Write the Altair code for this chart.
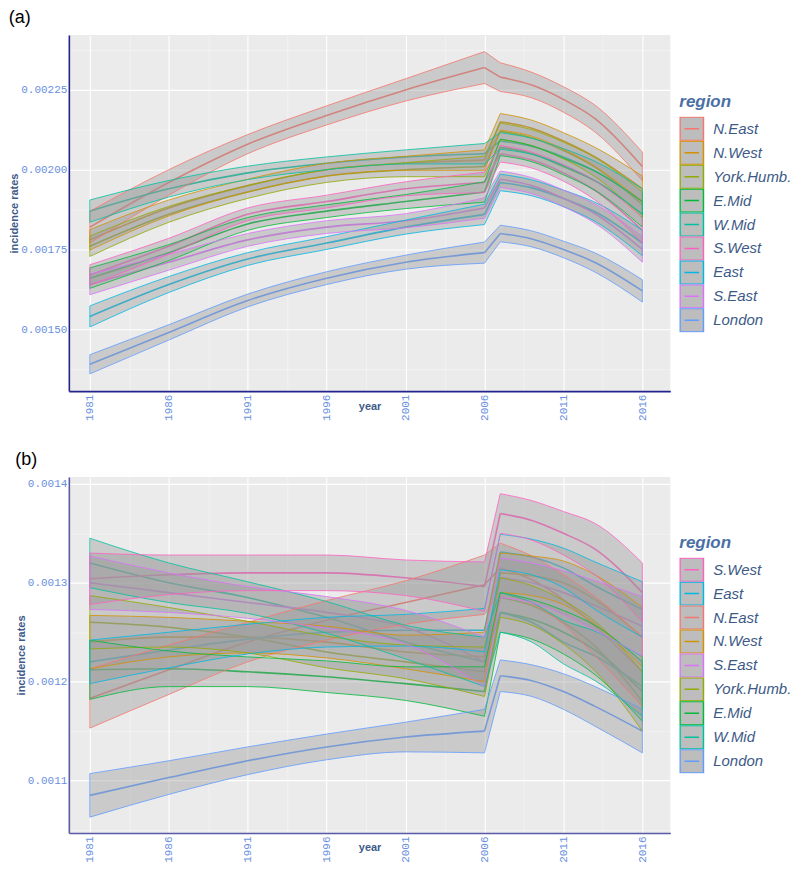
import altair as alt
import pandas as pd

years = [1981, 1986, 1991, 1996, 2001, 2006, 2007, 2009, 2011, 2013, 2016]
regions = ["N.East", "N.West", "York.Humb.", "E.Mid", "W.Mid", "East", "London", "S.East", "S.West"]
colors = ["#F8766D", "#D39200", "#93AA00", "#00BA38", "#00C19F", "#00B9E3", "#619CFF", "#DB72FB", "#FF61C3"]

# ---- panel (a) ----
a_order = ["N.East", "N.West", "York.Humb.", "E.Mid", "W.Mid", "S.West", "East", "S.East", "London"]
a_mean = {
    "N.East":     [0.00182, 0.00196, 0.00208, 0.00217, 0.00225, 0.00232, 0.00229, 0.002265, 0.00222, 0.00216, 0.00201],
    "N.West":     [0.00178, 0.00188, 0.00195, 0.00200, 0.00202, 0.00203, 0.00215, 0.00213, 0.00209, 0.00204, 0.00194],
    "York.Humb.": [0.00176, 0.00186, 0.00193, 0.00198, 0.00200, 0.00201, 0.00212, 0.00210, 0.00206, 0.002008, 0.00189],
    "E.Mid":      [0.00166, 0.00174, 0.00183, 0.00187, 0.00190, 0.00193, 0.00207, 0.00205, 0.00201, 0.001965, 0.00186],
    "W.Mid":      [0.00187, 0.00194, 0.00199, 0.00202, 0.00204, 0.00205, 0.00209, 0.002073, 0.00204, 0.001996, 0.00190],
    "S.West":     [0.00167, 0.00176, 0.00186, 0.00190, 0.00194, 0.00196, 0.00205, 0.00203, 0.00199, 0.001935, 0.00181],
    "East":       [0.00154, 0.00164, 0.00172, 0.00177, 0.00182, 0.00186, 0.00196, 0.001943, 0.00191, 0.001868, 0.00177],
    "S.East":     [0.00164, 0.00171, 0.00178, 0.00182, 0.00184, 0.00188, 0.00197, 0.00195, 0.00191, 0.001862, 0.00175],
    "London":     [0.00139, 0.00149, 0.00159, 0.00166, 0.00171, 0.00174, 0.00180, 0.001783, 0.00175, 0.001709, 0.00162],
}
a_half = {
    "N.East":     [0.000050, 0.000040, 0.000030, 0.000030, 0.000035, 0.000050, 0.000045, 0.000040, 0.000040, 0.000042, 0.000045],
    "N.West":     [0.000032, 0.000025, 0.000020, 0.000020, 0.000022, 0.000032, 0.000026, 0.000025, 0.000026, 0.000030, 0.000040],
    "York.Humb.": [0.000032, 0.000025, 0.000020, 0.000020, 0.000022, 0.000032, 0.000026, 0.000025, 0.000026, 0.000030, 0.000040],
    "E.Mid":      [0.000032, 0.000025, 0.000020, 0.000020, 0.000022, 0.000032, 0.000026, 0.000025, 0.000026, 0.000030, 0.000040],
    "W.Mid":      [0.000035, 0.000026, 0.000021, 0.000020, 0.000022, 0.000032, 0.000026, 0.000025, 0.000026, 0.000030, 0.000040],
    "S.West":     [0.000032, 0.000025, 0.000020, 0.000020, 0.000022, 0.000032, 0.000026, 0.000025, 0.000026, 0.000030, 0.000040],
    "East":       [0.000033, 0.000025, 0.000020, 0.000020, 0.000022, 0.000032, 0.000026, 0.000025, 0.000026, 0.000030, 0.000040],
    "S.East":     [0.000032, 0.000025, 0.000020, 0.000020, 0.000022, 0.000032, 0.000026, 0.000025, 0.000026, 0.000030, 0.000040],
    "London":     [0.000030, 0.000024, 0.000020, 0.000020, 0.000022, 0.000033, 0.000026, 0.000025, 0.000026, 0.000030, 0.000035],
}
a_ticks = [0.001375, 0.0015, 0.001625, 0.00175, 0.001875, 0.002, 0.002125, 0.00225, 0.002375]

# ---- panel (b) ----
b_order = ["S.West", "East", "N.East", "N.West", "S.East", "York.Humb.", "E.Mid", "W.Mid", "London"]
b_mean = {
    "S.West":     [0.001304, 0.001308, 0.001310, 0.001310, 0.001305, 0.001296, 0.001370, 0.001363, 0.001350, 0.001334, 0.001290],
    "East":       [0.001220, 0.001232, 0.001243, 0.001250, 0.001252, 0.001252, 0.001331, 0.001326, 0.001315, 0.001297, 0.001273],
    "N.East":     [0.001183, 0.001212, 0.001240, 0.001262, 0.001280, 0.001298, 0.001315, 0.001303, 0.001283, 0.001256, 0.001210],
    "N.West":     [0.001240, 0.001245, 0.001245, 0.001240, 0.001230, 0.001225, 0.001310, 0.001307, 0.001300, 0.001283, 0.001245],
    "S.East":     [0.001300, 0.001290, 0.001280, 0.001270, 0.001255, 0.001220, 0.001305, 0.001300, 0.001290, 0.001277, 0.001256],
    "York.Humb.": [0.001260, 0.001255, 0.001245, 0.001230, 0.001220, 0.001210, 0.001285, 0.001277, 0.001260, 0.001236, 0.001180],
    "E.Mid":      [0.001212, 0.001213, 0.001210, 0.001205, 0.001198, 0.001190, 0.001270, 0.001263, 0.001250, 0.001232, 0.001190],
    "W.Mid":      [0.001320, 0.001300, 0.001285, 0.001265, 0.001240, 0.001220, 0.001270, 0.001260, 0.001240, 0.001226, 0.001195],
    "London":     [0.001085, 0.001103, 0.001120, 0.001134, 0.001144, 0.001150, 0.001206, 0.001201, 0.001190, 0.001175, 0.001150],
}
b_half = {
    "S.West":     [0.000026, 0.000020, 0.000018, 0.000018, 0.000018, 0.000025, 0.000020, 0.000020, 0.000022, 0.000026, 0.000030],
    "East":       [0.000022, 0.000018, 0.000015, 0.000015, 0.000016, 0.000022, 0.000018, 0.000018, 0.000020, 0.000024, 0.000028],
    "N.East":     [0.000030, 0.000025, 0.000020, 0.000020, 0.000022, 0.000030, 0.000025, 0.000024, 0.000025, 0.000030, 0.000035],
    "N.West":     [0.000027, 0.000020, 0.000016, 0.000016, 0.000017, 0.000025, 0.000020, 0.000020, 0.000022, 0.000025, 0.000030],
    "S.East":     [0.000027, 0.000020, 0.000016, 0.000016, 0.000017, 0.000025, 0.000020, 0.000020, 0.000022, 0.000025, 0.000030],
    "York.Humb.": [0.000027, 0.000020, 0.000016, 0.000016, 0.000017, 0.000025, 0.000020, 0.000020, 0.000022, 0.000025, 0.000030],
    "E.Mid":      [0.000030, 0.000018, 0.000015, 0.000016, 0.000017, 0.000025, 0.000020, 0.000020, 0.000022, 0.000025, 0.000030],
    "W.Mid":      [0.000025, 0.000020, 0.000016, 0.000016, 0.000017, 0.000025, 0.000020, 0.000020, 0.000022, 0.000025, 0.000030],
    "London":     [0.000022, 0.000017, 0.000014, 0.000013, 0.000015, 0.000022, 0.000016, 0.000016, 0.000018, 0.000020, 0.000022],
}
b_ticks = [0.00105, 0.0011, 0.00115, 0.0012, 0.00125, 0.0013, 0.00135, 0.0014]

x_ticks = [1981, 1983.5, 1986, 1988.5, 1991, 1993.5, 1996, 1998.5, 2001, 2003.5,
           2006, 2008.5, 2011, 2013.5, 2016]

color_of = dict(zip(regions, colors))
SYMBOL = "M-1,-1H1V1H-1Z M-0.62,0H0.62"
LABEL_BLUE = "#6a8fde"
TITLE_BLUE = "#3d5a88"
BREAK_START, BREAK_END = 2006, 2007


def frame(mean, half):
    rows = []
    for r in regions:
        for yr, m, h in zip(years, mean[r], half[r]):
            segs = []
            if yr <= BREAK_START:
                segs.append("pre")
            if yr >= BREAK_END:
                segs.append("post")
            if yr in (BREAK_START, BREAK_END):
                segs.append("jump")
            for s in segs:
                rows.append({"region": r, "year": yr, "mean": m, "lo": m - h, "hi": m + h, "seg": s})
    return pd.DataFrame(rows)


def panel(df, order, label, ydom, yticks, major_test, fmt, width, height, axis_color, legend_y):
    cscale = alt.Scale(domain=order, range=[color_of[r] for r in order])
    xscale = alt.Scale(domain=[1979.67, 2017.77], nice=False, zero=False)
    yscale = alt.Scale(domain=ydom, nice=False, zero=False)
    x_major = "(datum.value - 1981) % 5 == 0"
    xaxis = alt.Axis(
        values=x_ticks, labelExpr=f"{x_major} ? format(datum.value, 'd') : ''",
        labelAngle=270, labelFont="Liberation Mono", labelFontSize=11, labelColor=LABEL_BLUE,
        labelPadding=3, ticks=False, domainColor=axis_color, domainWidth=1.6,
        gridColor="white",
        gridWidth={"condition": {"test": x_major, "value": 1.1}, "value": 0.6},
        gridOpacity={"condition": {"test": x_major, "value": 1}, "value": 0.6},
        title="year", titleFont="Liberation Sans", titleFontSize=11, titleFontWeight="bold",
        titleColor=TITLE_BLUE, titleY=9, titleBaseline="top",
    )
    yaxis = alt.Axis(
        values=yticks, labelExpr=f"{major_test} ? format(datum.value, '{fmt}') : ''",
        labelFont="Liberation Mono", labelFontSize=11, labelColor=LABEL_BLUE,
        labelPadding=2, ticks=False, domainColor=axis_color, domainWidth=1.6,
        gridColor="white",
        gridWidth={"condition": {"test": major_test, "value": 1.1}, "value": 0.6},
        gridOpacity={"condition": {"test": major_test, "value": 1}, "value": 0.6},
        title="incidence rates", titleFont="Liberation Sans", titleFontSize=11,
        titleFontWeight="bold", titleColor=TITLE_BLUE, titlePadding=1,
    )
    legend = alt.Legend(
        orient="none", legendX=612, legendY=legend_y, title="region",
        titleFont="Liberation Sans", titleFontSize=17, titleFontStyle="italic",
        titleFontWeight="bold", titleColor="#4a6fa5", titlePadding=6,
        labelFont="Liberation Sans", labelFontSize=15, labelFontStyle="italic",
        labelColor="#3d5a86", labelOffset=9, symbolType=SYMBOL, symbolSize=552,
        symbolFillColor="#bdbdbd", symbolStrokeWidth=1.5, rowPadding=0, clipHeight=24,
    )
    x = alt.X("year:Q", scale=xscale, axis=xaxis)
    base = alt.Chart(df)
    line = base.mark_line(strokeWidth=1.6, interpolate="monotone").encode(
        x=x,
        y=alt.Y("mean:Q", scale=yscale, axis=yaxis),
        color=alt.Color("region:N", scale=cscale, legend=legend, sort=order),
        detail="seg:N",
    )
    fill = base.mark_area(
        fill="#999999", fillOpacity=0.4, interpolate="monotone"
    ).encode(
        x=x,
        y=alt.Y("lo:Q", scale=yscale, axis=yaxis),
        y2="hi:Q",
        detail=["region:N", "seg:N"],
    )
    edges = base.transform_fold(["lo", "hi"], as_=["edge", "v"]).mark_line(
        strokeWidth=0.8, interpolate="monotone"
    ).encode(
        x=x,
        y=alt.Y("v:Q", scale=yscale, axis=yaxis),
        stroke=alt.Stroke("region:N", scale=cscale, legend=None),
        detail=["edge:N", "seg:N"],
    )
    ends = base.transform_filter(
        f"datum.year == {years[0]} || datum.year == {years[-1]}"
    ).mark_rule(strokeWidth=0.8).encode(
        x=x,
        y=alt.Y("lo:Q", scale=yscale, axis=yaxis),
        y2="hi:Q",
        stroke=alt.Stroke("region:N", scale=cscale, legend=None),
    )
    return alt.layer(line, fill, edges, ends).properties(
        width=width, height=height,
        title=alt.TitleParams(label, anchor="start", frame="bounds", fontSize=18,
                              fontWeight="normal", font="Liberation Sans", color="black",
                              offset=8, baseline="top"),
    )


pa = panel(frame(a_mean, a_half), a_order, "(a)", [0.001306, 0.002422], a_ticks,
           "abs(datum.value*4000 - round(datum.value*4000)) < 0.01", ".5f", 603, 357, "#23238e", 59)
pb = panel(frame(b_mean, b_half), b_order, "(b)", [0.001047, 0.001407], b_ticks,
           "abs(datum.value*10000 - round(datum.value*10000)) < 0.01", ".4f", 603, 357, "#5a5aa8", 58)

chart = alt.vconcat(pa, pb, spacing=30).resolve_scale(
    x="independent", y="independent", color="independent", stroke="independent"
).configure_view(fill="#EBEBEB", stroke=None).properties(
    padding={"left": 0, "top": 0, "right": 0, "bottom": 0}
)

chart.save("out.html", embed_options={"renderer": "svg", "actions": False})
